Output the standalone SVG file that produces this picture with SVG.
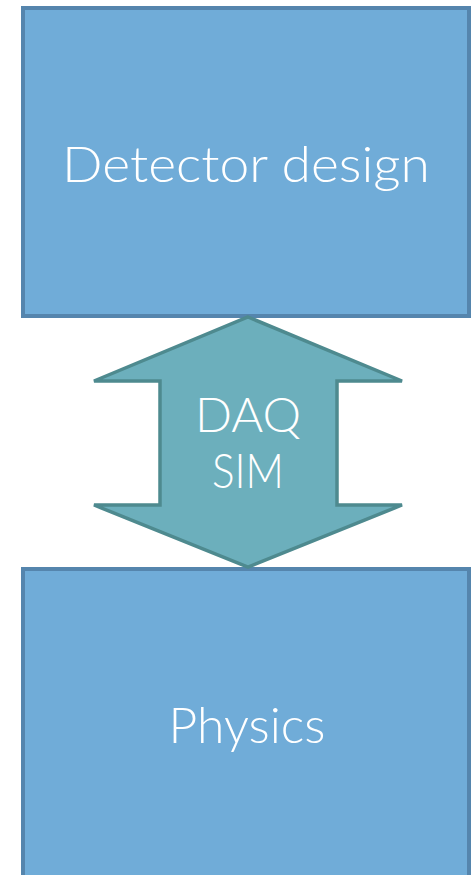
<svg xmlns="http://www.w3.org/2000/svg" width="473" height="875" viewBox="0 0 473 875">
<style>
.box{fill:#70acd8;stroke:#5585ad;stroke-width:4}
.arrow{fill:#6cafbc;stroke:#4e8a8f;stroke-width:3.5;stroke-linejoin:miter}
.lbl{font-family:Lato,"Open Sans","DejaVu Sans",sans-serif;font-weight:300;fill:#ffffff;text-anchor:middle}
</style>
<rect width="473" height="875" fill="#ffffff"/>
<g id="detector">
<rect class="box" x="23" y="8" width="446" height="308"/>
<text class="lbl" x="246" y="182" font-size="49" textLength="368" lengthAdjust="spacingAndGlyphs">Detector design</text>
</g>
<g id="physics">
<rect class="box" x="23" y="569" width="446" height="320"/>
<text class="lbl" x="247" y="743" font-size="49" textLength="157" lengthAdjust="spacingAndGlyphs">Physics</text>
</g>
<g id="connectors">
<g id="daqsim">
<polygon class="arrow" points="248,317 402,381 337,381 337,505 402,505 248,567 94,505 160,505 160,381 94,381"/>
<text class="lbl" x="248" y="432" font-size="47" textLength="106" lengthAdjust="spacingAndGlyphs">DAQ</text>
<text class="lbl" x="248" y="488" font-size="47" textLength="72" lengthAdjust="spacingAndGlyphs">SIM</text>
</g>
</g>
</svg>
